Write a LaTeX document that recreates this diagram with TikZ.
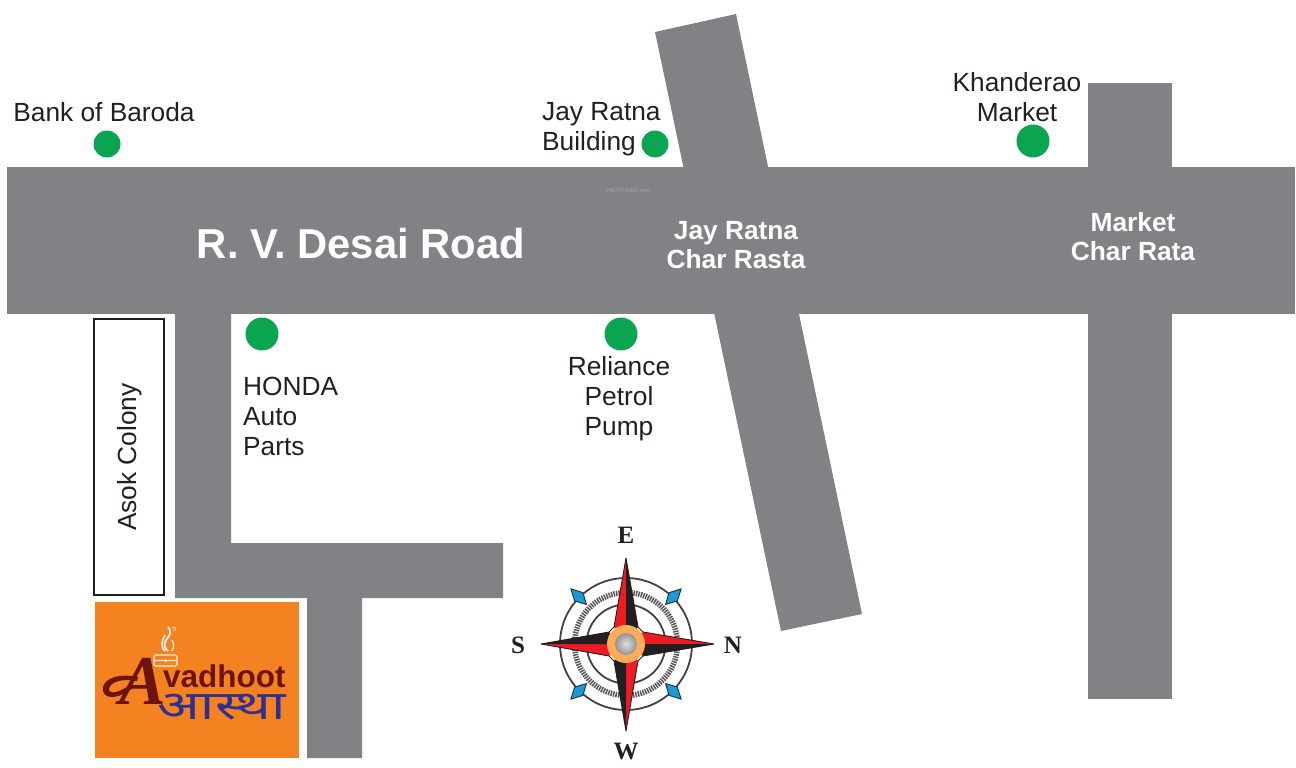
\documentclass[tikz,border=0pt]{standalone}
\usepackage{graphicx}
\usepackage{fontspec}
\setmainfont{Liberation Sans}
\newfontfamily\serifb{Liberation Serif}
\newfontfamily\deva[Script=Devanagari]{Noto Sans}
\definecolor{road}{HTML}{808285}
\definecolor{ink}{HTML}{231F20}
\definecolor{pin}{HTML}{0BA552}
\definecolor{logoor}{HTML}{F58220}
\definecolor{logored}{HTML}{6E1410}
\definecolor{logoblue}{HTML}{2E3192}
\definecolor{cred}{HTML}{ED1C24}
\definecolor{cblue}{HTML}{1C9AD6}
\tikzset{
  roadfill/.style={fill=road,draw=none},
  pindot/.style={circle,fill=pin,draw=none,inner sep=0pt,minimum size=#1},
  lbl/.style={text=ink,font=\fontsize{26.3}{30}\selectfont,inner sep=0pt,align=#1},
  roadlbl/.style={text=white,font=\fontsize{26.3}{29}\selectfont\bfseries,inner sep=0pt,align=center},
  dir/.style={text=ink,font=\serifb\fontsize{25}{25}\selectfont\bfseries,inner sep=0pt},
  ringline/.style={draw=ink!85,line width=1.8pt,fill=none},
  diam/.style={fill=cblue,draw=ink!80!cblue,line width=1pt,line join=round},
}
\begin{document}
\begin{tikzpicture}[x=1pt,y=-1pt]
\useasboundingbox (0,0) rectangle (1296,768);
% roads
\path[roadfill] (7,167) rectangle (1295,314);
\path[roadfill] (655,32) -- (736,14) -- (862,614) -- (781,631) -- cycle;
\path[roadfill] (1088,83) rectangle (1172,699);
\path[roadfill] (175,314) -- (231,314) -- (231,543) -- (503,543) -- (503,598) -- (362,598) -- (362,758) -- (307,758) -- (307,598) -- (175,598) -- cycle;
% pins
\node[pindot=27pt] (p1) at (107,144) {};
\node[pindot=27pt] (p2) at (655,144) {};
\node[pindot=33pt] (p3) at (1033,141) {};
\node[pindot=33pt] (p4) at (262,334) {};
\node[pindot=33pt] (p5) at (621,334) {};
% labels
\node[lbl=center] (t1) at (104,112) {Bank of Baroda};
\node[lbl=left,anchor=west] (t2) at (542,129) {Jay Ratna\\Building};
\node[lbl=center] (t3) at (1017,97) {Khanderao\\Market};
\node[lbl=left,anchor=west] (t4) at (243,416) {HONDA\\Auto\\Parts};
\node[lbl=center] (t5) at (619,399) {Reliance\\Petrol\\Pump};
\node[text=white,font=\fontsize{41.8}{44}\selectfont\bfseries,inner sep=0pt] (t6) at (361,244) {R. V. Desai Road};
\node[roadlbl] (t7) at (736,245) {Jay Ratna\\Char Rasta};
\node[roadlbl] (t8) at (1133,237) {Market\\Char Rata};
\node[text=road!70!white,font=\fontsize{5.5}{6}\selectfont,inner sep=0pt] (t9) at (628,191) {PROPTIGER.com};
% Asok Colony
\node[draw=ink,line width=2pt,minimum width=70pt,minimum height=276pt,inner sep=0pt] (box) at (129,457) {};
\node[lbl=center,rotate=90] (t10) at (130,457) {Asok Colony};
% logo
\path[fill=logoor] (95,602) rectangle (299,758);
\draw[white!85!logoor,line width=1.1pt,fill=none,rounded corners=1.5pt] (154,655) rectangle (177,666) (154,660.5) -- (177,660.5);
\path[fill=white] (165.5,660.5) circle (1.6);
\draw[white!90!logoor,line width=1.8pt] (168,651) .. controls (161,645) and (166,640) .. (169,636) .. controls (171,633) and (170,629) .. (168,627);
\draw[white!90!logoor,line width=1.6pt] (165,651) .. controls (160,646) and (162,641) .. (165,635);
\draw[white!90!logoor,line width=1.2pt] (172,651) .. controls (175,646) and (173,642) .. (172,640);
\draw[white!90!logoor,line width=.7pt] (172,628) .. controls (176,625) and (177,630) .. (173,631);
\node[text=logored,font=\serifb\fontsize{70}{70}\selectfont\bfseries\itshape,inner sep=0pt] (la) at (143,681) {A};
\fill[logored] (103,691) .. controls (101,678) and (120,673) .. (138,677) -- (137,681) .. controls (122,678) and (110,682) .. (109,689) .. controls (109,695) and (120,693) .. (132,683) -- (134,687) .. controls (120,699) and (105,700) .. (103,691) -- cycle;
\node[text=logored,font=\fontsize{31.5}{31.5}\selectfont\bfseries,inner sep=0pt,anchor=west] (lv) at (163,676) {vadhoot};
\node[text=logoblue,font=\deva\fontsize{40}{40}\selectfont\bfseries,inner sep=0pt] (lh) at (222,707) {\scalebox{1.4}[1]{आस्था}};
% compass
\coordinate (c) at (626,644);
\draw[ringline] (c) circle (66);
\draw[ringline] (c) circle (39.5);
\draw[draw=ink!75,line width=5.5pt,dash pattern=on 1.5pt off 1pt] (c) circle (51.5);
\begin{scope}[shift={(c)}]
\foreach \a/\b/\d in {45/50/40,135/140/130,225/230/220,315/320/310}{
  \path[fill=white] (\a:56) -- (\b:68) -- (\a:79) -- (\d:68) -- cycle;
  \path[diam] (\a:56) -- (\b:67) -- (\a:78) -- (\d:67) -- cycle;
}
\end{scope}
% arms: red half and black half
\fill[cred] (626,558) -- (614,627) -- (626,644) -- cycle;
\fill[ink]  (626,558) -- (638,627) -- (626,644) -- cycle;
\fill[cred] (714,644) -- (643,632) -- (626,644) -- cycle;
\fill[ink]  (714,644) -- (643,656) -- (626,644) -- cycle;
\fill[cred] (626,731) -- (638,661) -- (626,644) -- cycle;
\fill[ink]  (626,731) -- (614,661) -- (626,644) -- cycle;
\fill[cred] (541,644) -- (609,656) -- (626,644) -- cycle;
\fill[ink]  (541,644) -- (609,632) -- (626,644) -- cycle;
\draw[ink,line width=.9pt,line join=round] (626,558) -- (638,627) -- (643,632) -- (714,644) -- (643,656) -- (638,661) -- (626,731) -- (614,661) -- (609,656) -- (541,644) -- (609,632) -- (614,627) -- cycle;
\path[fill=orange!65!white] (c) circle (19);
\shade[inner color=gray!25,outer color=gray!85] (c) circle (11);
\node[dir] (de) at (626,535) {E};
\node[dir] (ds) at (518,645) {S};
\node[dir] (dn) at (733,645) {N};
\node[dir] (dw) at (626,751) {W};
\end{tikzpicture}
\end{document}
